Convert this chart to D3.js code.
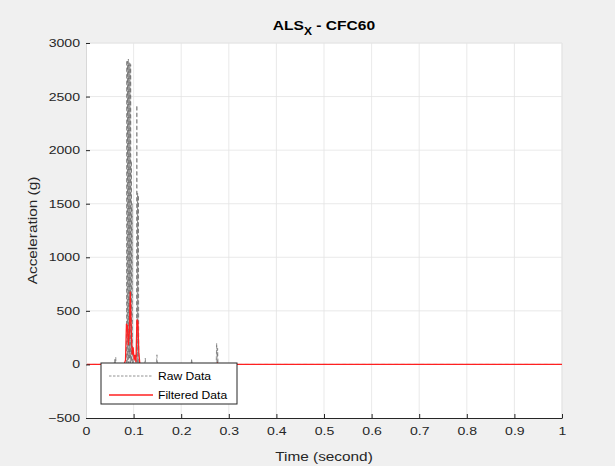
<!DOCTYPE html>
<html><head><meta charset="utf-8">
<script src="https://cdn.jsdelivr.net/npm/d3@7"></script>
<style>
html,body{margin:0;padding:0;background:#f0f0f0;}
svg{display:block;font-family:"Liberation Sans",Arial,sans-serif;}
</style></head>
<body>
<svg id="c" width="615" height="466"></svg>
<script>
// ---- data ----
const xTicks = [0,0.1,0.2,0.3,0.4,0.5,0.6,0.7,0.8,0.9,1];
const yTicks = [-500,0,500,1000,1500,2000,2500,3000];
const rawTime = [0,0.059,0.0600,0.0610,0.0625,0.0632,0.0640,0.084,
 0.0850,0.0858,0.0866,0.0874,0.0882,0.0890,0.0898,0.0906,0.0914,0.0922,0.0930,0.0938,0.0946,0.0954,0.0962,0.0970,0.0978,
 0.1010,0.1040,0.1060,0.1068,0.1076,0.1084,0.1092,0.1100,0.1108,0.1116,
 0.1235,0.1245,0.1255,0.148,0.149,0.150,0.221,0.222,0.223,0.2735,0.2745,0.2755,0.2765,0.2775,0.2785,0.30,1.0];
const rawAccel = [0,0,45,0,70,-10,0,0,
 20,2840,-30,2830,40,2850,-20,2820,60,2810,-40,2800,30,1900,-10,1500,0,
 40,-20,60,2420,-30,1600,20,1580,-10,0,
 0,60,0,0,90,0,0,55,0,0,200,0,150,0,0,0,0];
const filtTime = [0,0.080,0.083,0.085,0.087,0.089,0.091,0.093,0.095,0.097,0.099,0.101,0.103,0.105,0.107,0.109,0.111,0.113,0.116,0.274,0.276,0.278,1.0];
const filtAccel = [0,0,40,380,360,180,300,680,320,90,160,40,90,20,420,400,110,10,0,0,12,0,0];
const legendLabels = ["Raw Data","Filtered Data"];

// ---- layout ----
const svg = d3.select("#c");
const L=86, R=562, T=43, B=418;
const K = 1.28; // horizontal widening of the reference lettering
const x = d3.scaleLinear().domain([0,1]).range([L,R]);
const y = d3.scaleLinear().domain([-500,3000]).range([B,T]);
function widen(sel,k){ sel.each(function(){ const w=this.getComputedTextLength(); d3.select(this).attr("textLength",w*(k||K)).attr("lengthAdjust","spacingAndGlyphs"); }); }

svg.append("rect").attr("width",615).attr("height",466).attr("fill","#f0f0f0");
svg.append("rect").attr("x",L).attr("y",T).attr("width",R-L).attr("height",B-T).attr("fill","#fff");

// grid
const g = svg.append("g");
g.selectAll(".gx").data(xTicks.slice(1)).join("line")
 .attr("x1",d=>x(d)).attr("x2",d=>x(d)).attr("y1",T).attr("y2",B)
 .attr("stroke","#e3e3e3").attr("stroke-width",0.8);
g.selectAll(".gy").data(yTicks.slice(1)).join("line")
 .attr("x1",L).attr("x2",R).attr("y1",d=>y(d)).attr("y2",d=>y(d))
 .attr("stroke","#e3e3e3").attr("stroke-width",0.8);
svg.append("line").attr("x1",L).attr("x2",R).attr("y1",T).attr("y2",T).attr("stroke","#e6e6e6");
svg.append("line").attr("x1",R).attr("x2",R).attr("y1",T).attr("y2",B).attr("stroke","#e6e6e6");

// data lines
svg.append("clipPath").attr("id","pc").append("rect").attr("x",L).attr("y",T).attr("width",R-L).attr("height",B-T);
const rawPts = rawTime.map((t,i)=>[t,rawAccel[i]]);
const filtPts = filtTime.map((t,i)=>[t,filtAccel[i]]);
const line = d3.line().x(d=>x(d[0])).y(d=>y(d[1]));
svg.append("path").datum(rawPts).attr("d",line).attr("fill","none")
 .attr("stroke","#6a6a6a").attr("stroke-width",0.7).attr("stroke-dasharray","4,2.5").attr("clip-path","url(#pc)");
svg.append("path").datum(filtPts).attr("d",line).attr("fill","none")
 .attr("stroke","#ff2020").attr("stroke-width",1.3).attr("clip-path","url(#pc)");

// axes
const xAxis = d3.axisBottom(x).tickValues(xTicks).tickFormat(d3.format("")).tickSizeInner(-4).tickSizeOuter(0).tickPadding(9);
const gx = svg.append("g").attr("transform",`translate(0,${B})`).call(xAxis);
gx.select(".domain").attr("stroke","#262626");
gx.selectAll(".tick line").attr("stroke","#262626");
gx.selectAll("text").attr("fill","#262626").attr("font-size",11).attr("font-family","Liberation Sans, Arial, sans-serif").call(widen);

const yAxis = d3.axisLeft(y).tickValues(yTicks).tickFormat(d3.format("")).tickSizeInner(-4).tickSizeOuter(0).tickPadding(6);
const gy = svg.append("g").attr("transform",`translate(${L},0)`).call(yAxis);
gy.select(".domain").attr("stroke","#d8d8d8");
gy.selectAll(".tick line").attr("stroke","#262626");
gy.selectAll("text").attr("fill","#262626").attr("font-size",11).attr("font-family","Liberation Sans, Arial, sans-serif").call(widen);

// labels
svg.append("text").attr("x",(L+R)/2).attr("y",461).attr("text-anchor","middle")
 .attr("font-size",12).attr("fill","#262626").text("Time (second)").call(widen);
svg.append("text").attr("transform",`translate(37,${(T+B)/2}) rotate(-90)`).attr("text-anchor","middle")
 .attr("font-size",12).attr("fill","#262626").text("Acceleration (g)").call(widen);
const title = svg.append("text").attr("transform",`translate(${(L+R)/2},30) scale(1.2,1)`).attr("text-anchor","middle")
 .attr("font-size",13).attr("font-weight","bold").attr("fill","#000");
title.append("tspan").text("ALS");
title.append("tspan").attr("font-size",10).attr("dy",5).text("X");
title.append("tspan").attr("dy",-5).text(" - CFC60");

// legend
const lg = svg.append("g");
lg.append("rect").attr("x",101).attr("y",363).attr("width",136).attr("height",41)
 .attr("fill","#fff").attr("stroke","#262626").attr("stroke-width",1);
const ly = [376,395];
lg.append("line").attr("x1",109).attr("x2",153).attr("y1",ly[0]).attr("y2",ly[0])
 .attr("stroke","#777").attr("stroke-width",0.8).attr("stroke-dasharray","2.5,1.5");
lg.append("line").attr("x1",109).attr("x2",153).attr("y1",ly[1]).attr("y2",ly[1])
 .attr("stroke","#ff2020").attr("stroke-width",1.3);
lg.selectAll(".lt").data(legendLabels).join("text")
 .attr("x",158).attr("y",(d,i)=>ly[i]+4).attr("font-size",10.5).attr("fill","#000").text(d=>d).call(widen,1.15);
</script>
</body></html>
